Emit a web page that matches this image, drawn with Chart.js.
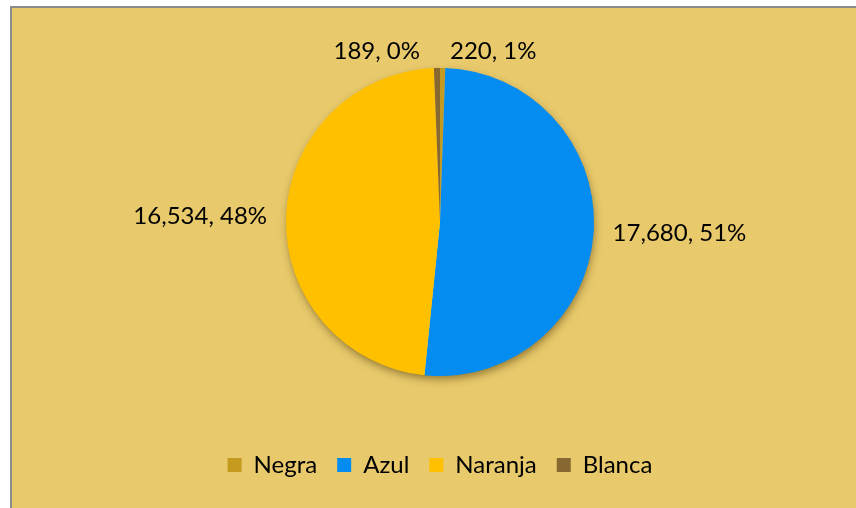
<!DOCTYPE html>
<html>
<head>
<meta charset="utf-8">
<script src="https://cdn.jsdelivr.net/npm/chart.js@4/dist/chart.umd.min.js"></script>
<style>
  html, body { margin: 0; padding: 0; background: #ffffff; }
  #wrap { width: 856px; height: 508px; position: relative; }
</style>
</head>
<body>
<div id="wrap"><canvas id="pieChart" width="856" height="508"></canvas></div>
<script>
// ============================
// DATA
// ============================
const categories = ["Negra", "Azul", "Naranja", "Blanca"];
const counts = [189, 17680, 16534, 220];
const percentLabels = ["0%", "51%", "48%", "1%"];
const sliceColors = ["#C49A1F", "#058CF0", "#FFC000", "#876831"];

const BG = "#E8C96B";
const FONT = "Lato, 'Open Sans', sans-serif";

// where each data label goes relative to its slice
const labelSide = ["topLeft", "right", "left", "topRight"];

// ============================
// PLUGINS
// ============================
const framePlugin = {
  id: "frame",
  beforeDraw(chart){
    const ctx = chart.ctx;
    ctx.save();
    ctx.fillStyle = "#ffffff";
    ctx.fillRect(0, 0, chart.width, chart.height);
    ctx.fillStyle = "#8c8c8c";
    ctx.fillRect(10, 6, chart.width, chart.height);
    ctx.fillStyle = BG;
    ctx.fillRect(12, 8, chart.width, chart.height);
    ctx.restore();
  }
};

// soft shadow under the pie
const shadowPlugin = {
  id: "pieShadow",
  beforeDatasetsDraw(chart){
    const arc = chart.getDatasetMeta(0).data[0];
    if(!arc) return;
    const ctx = chart.ctx;
    ctx.save();
    ctx.shadowColor = "rgba(70,50,0,0.55)";
    ctx.shadowBlur = 9;
    ctx.shadowOffsetX = 1;
    ctx.shadowOffsetY = 4;
    ctx.fillStyle = BG;
    ctx.beginPath();
    ctx.arc(arc.x, arc.y, arc.outerRadius - 1, 0, Math.PI*2);
    ctx.fill();
    ctx.restore();
  }
};

const labelPlugin = {
  id: "sliceLabels",
  afterDatasetsDraw(chart){
    const ctx = chart.ctx;
    const meta = chart.getDatasetMeta(0);
    ctx.save();
    ctx.font = "24px " + FONT;
    ctx.fillStyle = "#000000";
    ctx.textBaseline = "middle";
    meta.data.forEach((arc, i) => {
      const txt = counts[i].toLocaleString("en-US") + ", " + percentLabels[i];
      const mid = (arc.startAngle + arc.endAngle) / 2;
      const r = arc.outerRadius + 19;
      let x = arc.x + Math.cos(mid) * r;
      let y = arc.y + Math.sin(mid) * r;
      const side = labelSide[i];
      if(side === "right"){ ctx.textAlign = "left"; }
      else if(side === "left"){ ctx.textAlign = "right"; }
      else if(side === "topLeft"){
        ctx.textAlign = "right"; x = arc.x - 20; y = arc.y - arc.outerRadius - 17;
      } else {
        ctx.textAlign = "left"; x = arc.x + 10; y = arc.y - arc.outerRadius - 17;
      }
      ctx.fillText(txt, x, y);
    });
    ctx.restore();
  }
};

// ============================
// CHART
// ============================
Chart.defaults.font.family = FONT;

const pieChart = new Chart(document.getElementById("pieChart").getContext("2d"), {
  type: "pie",
  data: {
    labels: categories,
    datasets: [{
      data: counts,
      backgroundColor: sliceColors,
      borderWidth: 0
    }]
  },
  options: {
    responsive: false,
    animation: false,
    radius: 154,
    layout: { padding: { left: 24, right: 0, top: 11, bottom: 21 } },
    plugins: {
      legend: {
        display: true,
        position: "bottom",
        labels: {
          color: "#000000",
          boxWidth: 14,
          boxHeight: 14,
          padding: 20,
          font: { size: 24, family: FONT }
        }
      },
      tooltip: { enabled: false }
    }
  },
  plugins: [framePlugin, shadowPlugin, labelPlugin]
});
</script>
</body>
</html>
